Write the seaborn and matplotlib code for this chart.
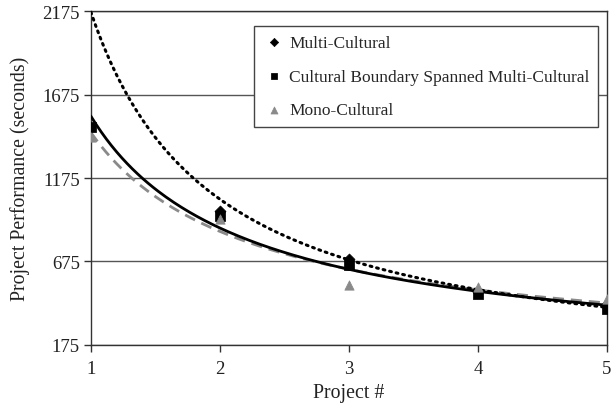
import numpy as np
import pandas as pd
import matplotlib
matplotlib.use("Agg")
import matplotlib.pyplot as plt
import seaborn as sns

# values
projects = [1, 2, 3, 4, 5]
multi_cultural = [2290, 977, 690, 492, 418]
boundary_spanned = [1481, 947, 654, 480, 391]
mono_cultural = [1421, 930, 534, 522, 450]

# power trendlines y = a * x^b (as drawn in the reference)
trend_multi = (2170, -1.05)
trend_boundary = (1546, -0.82)
trend_mono = (1448, -0.76)

sns.set_theme(style="white")
plt.rcParams["font.family"] = ["Liberation Serif", "DejaVu Serif"]

fig = plt.figure(figsize=(6.14, 4.06), dpi=100)
ax = fig.add_axes([0.148, 0.148, 0.8406, 0.822])

xs = np.linspace(1, 5, 200)
curves = pd.DataFrame({
    "x": xs,
    "multi": trend_multi[0] * xs ** trend_multi[1],
    "boundary": trend_boundary[0] * xs ** trend_boundary[1],
    "mono": trend_mono[0] * xs ** trend_mono[1],
})

sns.lineplot(data=curves, x="x", y="multi", ax=ax, color="black", lw=2.2,
             linestyle=(0, (0.6, 1.6)), dash_capstyle="round", zorder=3)
sns.lineplot(data=curves, x="x", y="boundary", ax=ax, color="black", lw=2.0, zorder=3)
sns.lineplot(data=curves, x="x", y="mono", ax=ax, color="#8a8a8a", lw=2.0,
             linestyle=(0, (4, 2.5)), zorder=2)

pts = pd.DataFrame({"x": projects, "multi": multi_cultural,
                    "boundary": boundary_spanned, "mono": mono_cultural})
sns.scatterplot(data=pts, x="x", y="multi", ax=ax, marker="D", s=32, color="black",
                edgecolor="black", label="Multi-Cultural", zorder=4)
sns.scatterplot(data=pts, x="x", y="boundary", ax=ax, marker="s", s=45, color="black",
                edgecolor="black", label="Cultural Boundary Spanned Multi-Cultural", zorder=5)
sns.scatterplot(data=pts, x="x", y="mono", ax=ax, marker="^", s=45, color="#8a8a8a",
                edgecolor="#8a8a8a", label="Mono-Cultural", zorder=6)

ax.set_xlim(1, 5)
ax.set_ylim(175, 2175)
ax.set_xticks([1, 2, 3, 4, 5])
ax.set_yticks([175, 675, 1175, 1675, 2175])
ax.yaxis.grid(True, color="#555555", lw=1.0)
ax.set_axisbelow(True)
for side in ["left", "bottom", "right", "top"]:
    ax.spines[side].set_visible(True)
    ax.spines[side].set_color("#333333")
    ax.spines[side].set_linewidth(1.0)
ax.tick_params(axis="both", which="both", direction="out", length=5, width=1,
               color="#333333", labelsize=13.5, labelcolor="#222222", pad=3,
               bottom=True, left=True)
ax.tick_params(axis="x", pad=6)
ax.set_xlabel("Project #", fontsize=14.3, color="#222222", labelpad=4)
ax.set_ylabel("Project Performance (seconds)", fontsize=14.3, color="#222222", labelpad=9)

leg = ax.legend(loc="upper right", bbox_to_anchor=(0.9826, 0.955), borderaxespad=0,
                frameon=True, fancybox=False, edgecolor="#444444", framealpha=1,
                fontsize=12.5, labelspacing=1.0, handletextpad=0.2, borderpad=0.5,
                handlelength=1.3, markerscale=0.75)
leg.get_frame().set_linewidth(1.0)

fig.savefig("out.png", dpi=100, facecolor="white")
